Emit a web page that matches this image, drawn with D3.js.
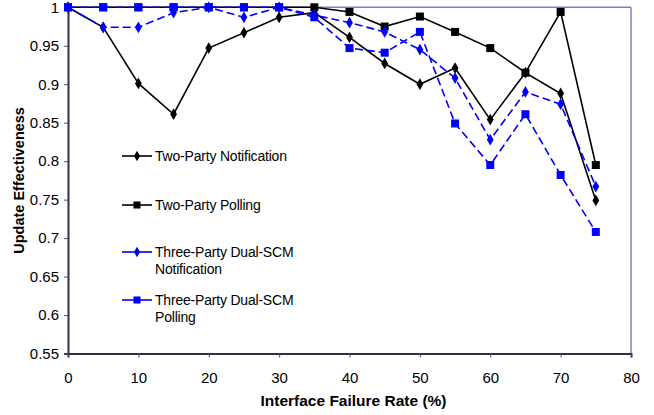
<!DOCTYPE html>
<html><head><meta charset="utf-8">
<script src="https://cdn.jsdelivr.net/npm/d3@7"></script>
<style>body{margin:0;background:#fff}svg{display:block}text{font-family:"Liberation Sans",Arial,sans-serif}</style>
</head><body><svg id="c" width="654" height="415"></svg>
<script>
const failureRates = [0,5,10,15,20,25,30,35,40,45,50,55,60,65,70,75];
const twoPartyNotification = [1.0,0.974,0.901,0.861,0.947,0.967,0.987,0.993,0.961,0.927,0.900,0.921,0.854,0.915,0.888,0.749];
const twoPartyPolling = [1.0,1.0,1.0,1.0,1.0,1.0,1.0,1.0,0.994,0.975,0.988,0.968,0.947,0.915,0.994,0.795];
const threePartyNotification = [1.0,0.974,0.974,0.993,1.0,0.987,1.0,0.990,0.980,0.968,0.945,0.908,0.828,0.890,0.874,0.767];
const threePartyPolling = [1.0,1.0,1.0,1.0,1.0,1.0,1.0,0.987,0.947,0.941,0.968,0.849,0.795,0.861,0.782,0.708];
const seriesNames = ["Two-Party Notification","Two-Party Polling","Three-Party Dual-SCM Notification","Three-Party Dual-SCM Polling"];
const xTicks = [0,10,20,30,40,50,60,70,80];
const yTicks = [0.55,0.6,0.65,0.7,0.75,0.8,0.85,0.9,0.95,1];
const yTickLabels = ["0.55","0.6","0.65","0.7","0.75","0.8","0.85","0.9","0.95","1"];

const series = [
  {name:seriesNames[0], values:twoPartyNotification, color:"#000", dash:null, marker:"diamond", legendLines:["Two-Party Notification"], ly:156},
  {name:seriesNames[1], values:twoPartyPolling, color:"#000", dash:null, marker:"square", legendLines:["Two-Party Polling"], ly:205},
  {name:seriesNames[2], values:threePartyNotification, color:"#0000ff", dash:"8,4", marker:"diamond", legendLines:["Three-Party Dual-SCM","Notification"], ly:252},
  {name:seriesNames[3], values:threePartyPolling, color:"#0000ff", dash:"8,4", marker:"square", legendLines:["Three-Party Dual-SCM","Polling"], ly:300}
];

const L=68, R=631, T=7.3, B=353.5;
const svg = d3.select("#c");
const x = d3.scaleLinear().domain([0,80]).range([L,R]);
const y = d3.scaleLinear().domain([0.55,1]).range([B,T]);

// frame top/right
svg.append("line").attr("x1",L).attr("x2",R).attr("y1",T).attr("y2",T).attr("stroke","#8080c0").attr("stroke-width",1.5);
svg.append("line").attr("x1",R).attr("x2",R).attr("y1",T).attr("y2",B).attr("stroke","#8080c0").attr("stroke-width",1.5);

// axes
const xAxis = svg.append("g").attr("transform",`translate(0,${B})`)
  .call(d3.axisBottom(x).tickValues(xTicks).tickSize(4).tickPadding(15).tickFormat(d3.format("d")));
const yAxis = svg.append("g").attr("transform",`translate(${L},0)`)
  .call(d3.axisLeft(y).tickValues(yTicks).tickSize(4).tickPadding(5).tickFormat((d,i)=>yTickLabels[i]));
[xAxis,yAxis].forEach(g=>{
  g.select(".domain").attr("stroke","#30304a").attr("stroke-width",2);
  g.selectAll(".tick line").attr("stroke","#555");
  g.selectAll("text").attr("font-size",15).attr("fill","#000");
});

// titles
svg.append("text").attr("x",(L+R)/2+4).attr("y",406).attr("text-anchor","middle")
  .attr("font-size",15.5).attr("font-weight","bold").text("Interface Failure Rate (%)");
svg.append("text").attr("transform",`translate(24,${(T+B)/2}) rotate(-90)`).attr("text-anchor","middle")
  .attr("font-size",14.5).attr("font-weight","bold").text("Update Effectiveness");

const sym = {diamond:d3.symbol().type(d3.symbolDiamond).size(40), square:d3.symbol().type(d3.symbolSquare).size(64)};
const line = d3.line().x((d,i)=>x(failureRates[i])).y(d=>y(d));

const order = [1,0,3,2];
order.forEach(k=>{
  const s = series[k];
  svg.append("path").datum(s.values).attr("d",line).attr("fill","none")
    .attr("stroke",s.color).attr("stroke-width",1.6).attr("stroke-dasharray",s.dash);
  svg.append("g").selectAll("path").data(s.values).join("path")
    .attr("transform",(d,i)=>`translate(${x(failureRates[i])},${y(d)})`)
    .attr("d",sym[s.marker]).attr("fill",s.color);
});

// legend
series.forEach(s=>{
  const g = svg.append("g");
  g.append("line").attr("x1",122).attr("x2",152).attr("y1",s.ly).attr("y2",s.ly).attr("stroke",s.color).attr("stroke-width",1.6);
  g.append("path").attr("transform",`translate(137,${s.ly})`).attr("d",s.marker==="square"?d3.symbol().type(d3.symbolSquare).size(50)():d3.symbol().type(d3.symbolDiamond).size(32)()).attr("fill",s.color);
  s.legendLines.forEach((t,j)=>{
    g.append("text").attr("x",155).attr("y",s.ly+j*17).attr("dy","0.35em").attr("font-size",14).attr("letter-spacing",-0.2).text(t);
  });
});
</script></body></html>
